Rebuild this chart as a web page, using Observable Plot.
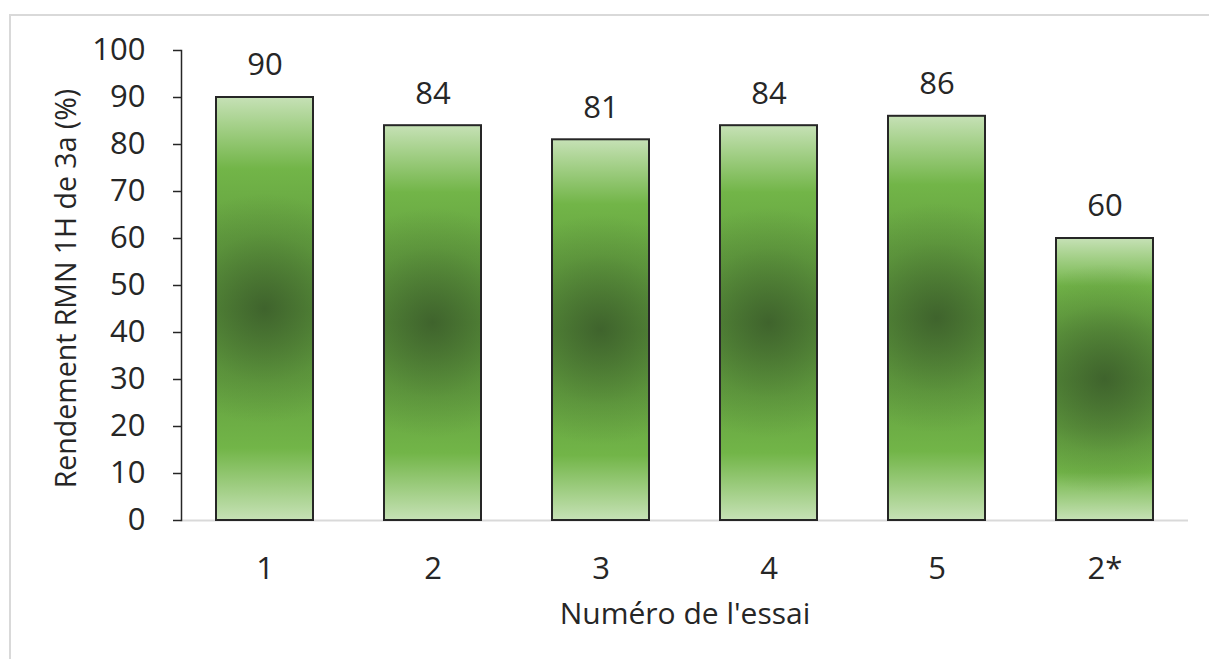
<!DOCTYPE html>
<html>
<head>
<meta charset="utf-8">
<script src="https://cdn.jsdelivr.net/npm/d3@7"></script>
<script src="https://cdn.jsdelivr.net/npm/@observablehq/plot@0.6"></script>
<style>
  html, body { margin: 0; padding: 0; background: #fff; overflow: hidden; }
  #frame { position: absolute; left: 9px; top: 14px; width: 1400px; height: 800px; border: 2px solid #d9d9d9; box-sizing: border-box; }
  #chart { position: absolute; left: 0; top: 0; }
</style>
</head>
<body>
<div id="frame"></div>
<div id="chart"></div>
<script>
const essais = ["1", "2", "3", "4", "5", "2*"];
const rendements = [90, 84, 81, 84, 86, 60];
const yTicks = [0, 10, 20, 30, 40, 50, 60, 70, 80, 90, 100];
const yLabel = "Rendement RMN 1H de 3a (%)";
const xLabel = "Numéro de l'essai";

const data = essais.map((e, i) => ({essai: e, rendement: rendements[i]}));

const chart = Plot.plot({
  width: 1209,
  height: 659,
  marginLeft: 181,
  marginRight: 21,
  marginTop: 50,
  marginBottom: 139,
  style: {fontFamily: "'Open Sans', sans-serif", fontSize: "31px", color: "#262626", background: "transparent", overflow: "visible"},
  x: {domain: essais, paddingInner: 0.425, paddingOuter: 0.196, label: null},
  y: {domain: [0, 100], label: null},
  marks: [
    Plot.ruleY([0], {stroke: "#d9d9d9", strokeWidth: 2}),
    Plot.barY(data, {x: "essai", y: "rendement", fill: "url(#barLin)"}),
    Plot.barY(data, {x: "essai", y: "rendement", fill: "none", stroke: "#262626", strokeWidth: 2}),
    Plot.text(data, {x: "essai", y: "rendement", text: d => String(d.rendement), dy: -32}),
    Plot.axisY({ticks: yTicks, tickSize: 8, tickPadding: 28, strokeWidth: 1.5, label: null}),
    Plot.axisX({tickSize: 0, tickPadding: 36, label: null}),
    Plot.frame({anchor: "left", stroke: "#262626", strokeWidth: 1.5}),
    Plot.text([yLabel], {frameAnchor: "left", textAnchor: "middle", lineAnchor: "middle", rotate: -90, dx: -115, dy: 3, fontSize: 28.5}),
    Plot.text([xLabel], {frameAnchor: "bottom", textAnchor: "middle", lineAnchor: "middle", dy: 94, fontSize: 30})
  ]
});
document.getElementById("chart").appendChild(chart);

// gradients
const ns = "http://www.w3.org/2000/svg";
const svg = chart.tagName.toLowerCase() === "svg" ? chart : chart.querySelector("svg");
const defs = document.createElementNS(ns, "defs");
svg.insertBefore(defs, svg.firstChild);
const lin = document.createElementNS(ns, "linearGradient");
lin.setAttribute("id", "barLin");
lin.setAttribute("x1", "0"); lin.setAttribute("y1", "0");
lin.setAttribute("x2", "0"); lin.setAttribute("y2", "1");
[[0, "#c6e1b6"], [0.06, "#a8d28e"], [0.17, "#72b548"], [0.33, "#64a140"], [0.5, "#5b953b"],
 [0.67, "#64a140"], [0.83, "#72b548"], [0.94, "#a8d28e"], [1, "#c6e1b6"]].forEach(([o, c]) => {
  const s = document.createElementNS(ns, "stop");
  s.setAttribute("offset", o); s.setAttribute("stop-color", c);
  lin.appendChild(s);
});
defs.appendChild(lin);

const barGroup = svg.querySelectorAll('g[aria-label="bar"]')[0];
barGroup.querySelectorAll("rect").forEach((r, i) => {
  const x = +r.getAttribute("x"), y = +r.getAttribute("y");
  const w = +r.getAttribute("width"), h = +r.getAttribute("height");
  const g = document.createElementNS(ns, "radialGradient");
  g.setAttribute("id", "rad" + i);
  g.setAttribute("gradientUnits", "userSpaceOnUse");
  g.setAttribute("cx", x + w / 2); g.setAttribute("cy", y + h / 2);
  g.setAttribute("r", 115);
  [[0, 0.9], [0.3, 0.58], [0.65, 0.2], [1, 0]].forEach(([o, a]) => {
    const s = document.createElementNS(ns, "stop");
    s.setAttribute("offset", o); s.setAttribute("stop-color", "#3c5e2b"); s.setAttribute("stop-opacity", a);
    g.appendChild(s);
  });
  defs.appendChild(g);
  const ov = r.cloneNode();
  ov.setAttribute("fill", "url(#rad" + i + ")");
  r.parentNode.insertBefore(ov, r.nextSibling);
});
</script>
</body>
</html>
